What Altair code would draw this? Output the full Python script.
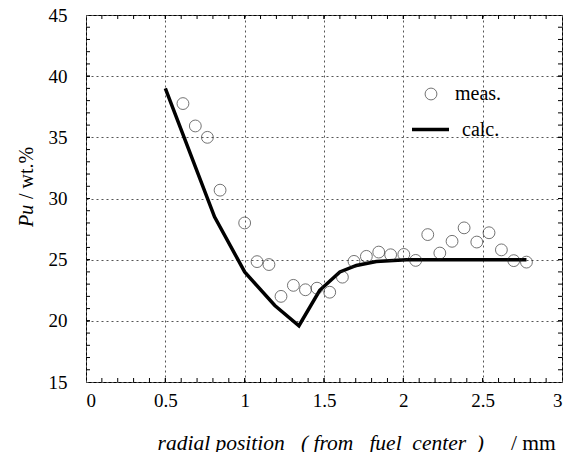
import altair as alt
import pandas as pd
import numpy as np

# measured data
meas_x = [0.611, 0.689, 0.765, 0.845, 1.0, 1.078, 1.153, 1.229, 1.307, 1.383, 1.456,
          1.536, 1.616, 1.689, 1.767, 1.845, 1.92, 2.003, 2.078, 2.154, 2.23, 2.307,
          2.383, 2.463, 2.54, 2.618, 2.696, 2.776]
meas_y = [37.76, 35.93, 35.0, 30.68, 28.0, 24.84, 24.6, 22.0, 22.9, 22.54, 22.67,
          22.34, 23.57, 24.86, 25.27, 25.62, 25.4, 25.43, 24.94, 27.05, 25.54, 26.5,
          27.6, 26.44, 27.2, 25.8, 24.92, 24.8]

# calculated curve
calc_x = [0.5, 0.81, 1.0, 1.19, 1.342, 1.473, 1.6, 1.704, 1.83, 2.02, 2.776]
calc_y = [39.0, 28.5, 24.0, 21.25, 19.6, 22.5, 24.0, 24.53, 24.85, 25.0, 25.0]

x_ticks = [0, 0.5, 1, 1.5, 2, 2.5, 3]
y_ticks = [15, 20, 25, 30, 35, 40, 45]
x_minor = [round(v, 1) for v in np.arange(0.1, 3.0, 0.1)]
y_minor = list(range(16, 45))

W, H = 476, 367
FONT = "Liberation Serif"
NB = "\u00a0"

meas = pd.DataFrame({"x": meas_x, "y": meas_y, "series": "meas."})
calc = pd.DataFrame({"x": calc_x, "y": calc_y, "series": "calc."})

xs = alt.Scale(domain=[0, 3], nice=False, zero=False)
ys = alt.Scale(domain=[15, 45], nice=False, zero=False)

grid_axis = dict(grid=True, gridColor="#555", gridDash=[2, 3], gridWidth=1,
                 ticks=False, domain=False, labelFont=FONT, labelFontSize=19,
                 labelColor="black", title=None)

base_x = alt.X("x:Q", scale=xs,
               axis=alt.Axis(values=x_ticks, format="~g", labelPadding=9, **grid_axis))
base_y = alt.Y("y:Q", scale=ys,
               axis=alt.Axis(values=y_ticks, labelPadding=19, **grid_axis))

line = alt.Chart(calc).mark_line(strokeWidth=3.5, strokeJoin="miter").encode(
    x=base_x, y=base_y,
    color=alt.Color("series:N", scale=alt.Scale(range=["black"]),
                    legend=alt.Legend(orient="none", legendX=324, legendY=94, title=None,
                                      symbolType="stroke", symbolSize=1369,
                                      symbolStrokeWidth=3.5, labelFont=FONT,
                                      labelFontSize=20, labelOffset=11, padding=0,
                                      labelColor="black")),
)

points = alt.Chart(meas).mark_point(filled=False, color="#222", size=140, strokeWidth=0.9,
                                    shape="circle").encode(
    x="x:Q", y="y:Q",
    shape=alt.Shape("series:N", scale=alt.Scale(range=["circle"]),
                    legend=alt.Legend(orient="none", legendX=335, legendY=69, title=None,
                                      symbolSize=140, symbolStrokeColor="#222",
                                      symbolFillColor="transparent", symbolStrokeWidth=0.9,
                                      labelFont=FONT, labelFontSize=20, labelOffset=14,
                                      padding=0, labelColor="black")),
)

xm = pd.DataFrame({"x": x_minor + x_ticks[1:-1]})
ym = pd.DataFrame({"y": y_minor + y_ticks[1:-1]})
tick_bottom = alt.Chart(xm).mark_rule(color="black", strokeWidth=1).encode(
    x="x:Q", y=alt.value(H), y2=alt.value(H - 4))
tick_top = alt.Chart(xm).mark_rule(color="black", strokeWidth=1).encode(
    x="x:Q", y=alt.value(0), y2=alt.value(4))
tick_left = alt.Chart(ym).mark_rule(color="black", strokeWidth=1).encode(
    y="y:Q", x=alt.value(0), x2=alt.value(4))
tick_right = alt.Chart(ym).mark_rule(color="black", strokeWidth=1).encode(
    y="y:Q", x=alt.value(W), x2=alt.value(W - 4))

x_title_main = ("radial" + NB + "position" + NB * 3 + "(" + NB + "from" + NB * 3 +
                "fuel" + NB * 2 + "center" + NB * 2 + ")")
xt1 = alt.Chart(pd.DataFrame({"t": [x_title_main]})).mark_text(
    font=FONT, fontSize=21.5, fontStyle="italic", align="right", baseline="middle",
    color="black").encode(text="t:N", x=alt.value(398), y=alt.value(429))
xt2 = alt.Chart(pd.DataFrame({"t": ["/" + NB + "mm"]})).mark_text(
    font=FONT, fontSize=21.5, align="left", baseline="middle", color="black").encode(
    text="t:N", x=alt.value(425), y=alt.value(429))
yt1 = alt.Chart(pd.DataFrame({"t": ["Pu"]})).mark_text(
    font=FONT, fontSize=20, fontStyle="italic", align="left", baseline="middle",
    angle=270, color="black").encode(text="t:N", x=alt.value(-59), y=alt.value(212))
yt2 = alt.Chart(pd.DataFrame({"t": ["/" + NB + "wt.%"]})).mark_text(
    font=FONT, fontSize=20, align="left", baseline="middle", angle=270,
    color="black").encode(text="t:N", x=alt.value(-59), y=alt.value(184))

chart = alt.layer(
    line, points, tick_bottom, tick_top, tick_left, tick_right, xt1, xt2, yt1, yt2
).resolve_legend(color="independent", shape="independent").properties(
    width=W, height=H,
    autosize=alt.AutoSizeParams(type="none"),
    padding={"left": 78, "top": 7, "right": 1, "bottom": 70},
).configure_view(stroke="black", strokeWidth=1)

chart.save("out.html", embed_options={"renderer": "svg", "actions": False})
